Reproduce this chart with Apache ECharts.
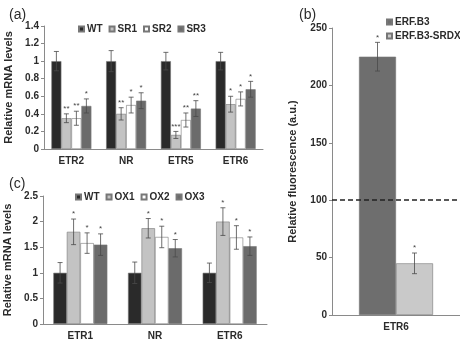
<!DOCTYPE html>
<html>
<head>
<meta charset="utf-8">
<script src="https://cdn.jsdelivr.net/npm/echarts@6/dist/echarts.min.js"></script>
<style>
  html, body { margin: 0; padding: 0; background: #fff; }
  #chart { width: 460px; height: 344px; }
</style>
</head>
<body>
<div id="chart"></div>
<script>
// panel (a)
const genesA = ['ETR2', 'NR', 'ETR5', 'ETR6']
const namesA = ['WT', 'SR1', 'SR2', 'SR3']
const valuesA = [
  [1.0, 1.0, 1.0, 1.0],
  [0.35, 0.40, 0.16, 0.51],
  [0.35, 0.50, 0.33, 0.57],
  [0.49, 0.55, 0.46, 0.68]
]
const errorsA = [
  [0.11, 0.12, 0.10, 0.10],
  [0.05, 0.07, 0.04, 0.09],
  [0.08, 0.09, 0.08, 0.08],
  [0.08, 0.09, 0.09, 0.09]
]
const starsA = [
  ['', '', '', ''],
  ['**', '**', '***', '*'],
  ['**', '*', '**', '*'],
  ['*', '*', '**', '*']
]

// panel (b)
const genesB = ['ETR6']
const namesB = ['ERF.B3', 'ERF.B3-SRDX']
const valuesB = [[225], [45]]
const errorsB = [[12.5], [9]]
const starsB = [['*'], ['*']]
const baselineB = 100

// panel (c)
const genesC = ['ETR1', 'NR', 'ETR6']
const namesC = ['WT', 'OX1', 'OX2', 'OX3']
const valuesC = [
  [1.0, 1.0, 1.0],
  [1.80, 1.87, 2.00],
  [1.58, 1.70, 1.69],
  [1.55, 1.48, 1.52]
]
const errorsC = [
  [0.20, 0.21, 0.19],
  [0.25, 0.19, 0.27],
  [0.20, 0.21, 0.23],
  [0.21, 0.17, 0.18]
]
const starsC = [
  ['', '', ''],
  ['*', '*', '*'],
  ['*', '*', '*'],
  ['*', '*', '*']
]

const font = 'Liberation Sans, Arial, sans-serif'
const textColor = '#2b2b2b'
const colorsA = ['#2a2a2a', '#c3c3c3', '#ffffff', '#6b6b6b']
const colorsB = ['#6e6e6e', '#c9c9c9']

function errRender (offset, stars) {
  return function (params, api) {
    const x = api.value(0)
    const top = api.coord([x, api.value(2)])
    const bot = api.coord([x, api.value(1)])
    const cx = top[0] + offset
    const cap = 2.5
    const st = { stroke: '#4a4a4a', lineWidth: 0.8 }
    return {
      type: 'group',
      children: [
        { type: 'line', shape: { x1: cx, y1: top[1], x2: cx, y2: bot[1] }, style: st },
        { type: 'line', shape: { x1: cx - cap, y1: top[1], x2: cx + cap, y2: top[1] }, style: st },
        { type: 'line', shape: { x1: cx - cap, y1: bot[1], x2: cx + cap, y2: bot[1] }, style: st },
        {
          type: 'text',
          style: {
            text: stars[params.dataIndex], x: cx, y: top[1] - 1,
            align: 'center', verticalAlign: 'bottom',
            fontSize: 8, fontFamily: font, fill: '#444'
          }
        }
      ]
    }
  }
}

function yAxisOf (gridIndex, max, interval, name, gap) {
  return {
    gridIndex: gridIndex, type: 'value', min: 0, max: max, interval: interval,
    name: name, nameLocation: 'middle', nameGap: gap,
    nameTextStyle: { fontFamily: font, fontWeight: 'bold', fontSize: 11, color: textColor },
    axisLine: { show: true, lineStyle: { color: '#8a8a8a' } },
    axisTick: { show: true, length: 3, lineStyle: { color: '#8a8a8a' } },
    axisLabel: { fontFamily: font, fontWeight: 'bold', fontSize: 10, color: textColor, margin: 5 },
    splitLine: { show: false }
  }
}

function xAxisOf (gridIndex, data) {
  return {
    gridIndex: gridIndex, type: 'category', data: data,
    axisLine: { lineStyle: { color: '#8a8a8a' } },
    axisTick: { length: 3, lineStyle: { color: '#8a8a8a' } },
    axisLabel: { fontFamily: font, fontWeight: 'bold', fontSize: 10, color: textColor, margin: 7 }
  }
}

function panelSeries (axisIndex, names, values, errors, stars, colors, barWidth) {
  const out = []
  const n = names.length
  names.forEach((nm, i) => {
    out.push({
      name: nm, type: 'bar', xAxisIndex: axisIndex, yAxisIndex: axisIndex,
      data: values[i], barWidth: barWidth, barGap: '0%',
      itemStyle: { color: colors[i], borderColor: '#777', borderWidth: 0.6 }
    })
  })
  names.forEach((nm, i) => {
    out.push({
      type: 'custom', xAxisIndex: axisIndex, yAxisIndex: axisIndex, z: 5,
      renderItem: errRender((i - (n - 1) / 2) * barWidth, stars[i]),
      encode: { x: 0, y: [1, 2] },
      data: values[i].map((v, j) => [j, v - errors[i][j], v + errors[i][j]])
    })
  })
  return out
}

const seriesB = panelSeries(1, namesB, valuesB, errorsB, starsB, colorsB, 37)
seriesB[0].markLine = {
  silent: true, symbol: 'none', label: { show: false },
  lineStyle: { color: '#222', type: [5, 3], width: 1.5 },
  data: [{ yAxis: baselineB }]
}

const legendText = { fontFamily: font, fontWeight: 'bold', fontSize: 10, color: textColor, padding: [0, 0, 0, -2] }
const legendBase = { padding: 0, icon: 'rect', itemWidth: 5, itemHeight: 5, textStyle: legendText }

const option = {
  animation: false,
  title: [
    { text: '(a)', left: 4, top: 3, textStyle: { fontFamily: font, fontWeight: 'normal', fontSize: 14, color: textColor } },
    { text: '(b)', left: 294, top: 3, textStyle: { fontFamily: font, fontWeight: 'normal', fontSize: 14, color: textColor } },
    { text: '(c)', left: 4, top: 172, textStyle: { fontFamily: font, fontWeight: 'normal', fontSize: 14, color: textColor } }
  ],
  legend: [
    Object.assign({ data: namesA, left: 78, top: 24, itemGap: 6 }, legendBase),
    Object.assign({ data: namesB, left: 386, top: 17, itemGap: 4, orient: 'vertical' }, legendBase),
    Object.assign({ data: namesC, left: 75, top: 192, itemGap: 6 }, legendBase)
  ],
  grid: [
    { left: 44, top: 26, width: 219, height: 123 },
    { left: 332, top: 28, width: 128, height: 287 },
    { left: 43, top: 196, width: 224, height: 128 }
  ],
  xAxis: [xAxisOf(0, genesA), xAxisOf(1, genesB), xAxisOf(2, genesC)],
  yAxis: [
    yAxisOf(0, 1.4, 0.2, 'Relative mRNA levels', 30),
    yAxisOf(1, 250, 50, 'Relative fluorescence (a.u.)', 34),
    yAxisOf(2, 2.5, 0.5, 'Relative mRNA levels', 30)
  ],
  series: [].concat(
    panelSeries(0, namesA, valuesA, errorsA, starsA, colorsA, 10),
    seriesB,
    panelSeries(2, namesC, valuesC, errorsC, starsC, colorsA, 13.5)
  )
}

const chart = echarts.init(document.getElementById('chart'))
chart.setOption(option)
</script>
</body>
</html>
